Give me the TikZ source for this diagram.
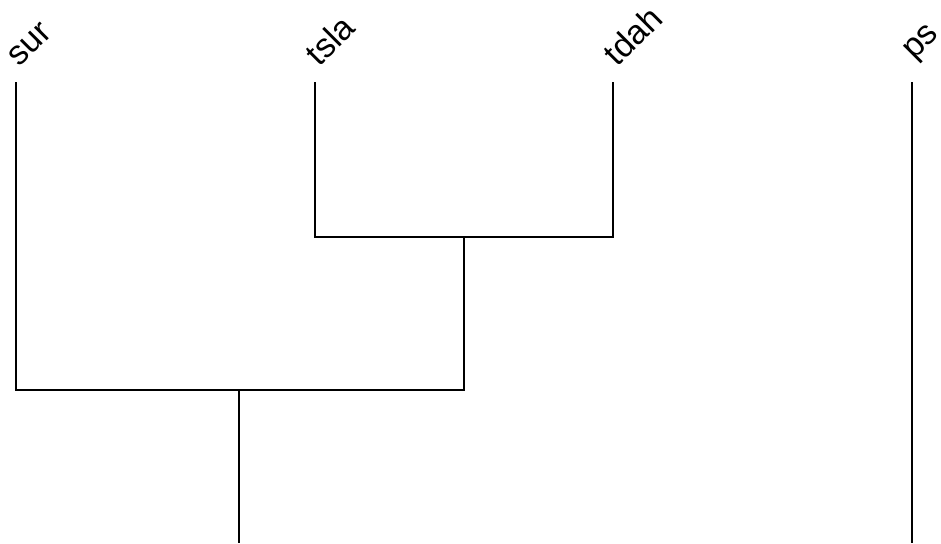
\documentclass[tikz,border=0pt]{standalone}
\usepackage{fontspec}
\setmainfont{Liberation Sans}
\begin{document}
\begin{tikzpicture}[x=1pt,y=-1pt,
  link/.style={line width=1.4pt,black},
  leaflabel/.style={rotate=45,anchor=south west,inner sep=0pt,font=\fontsize{34}{39}\selectfont}]
\useasboundingbox (0,0) rectangle (941,543);
% leaves
\coordinate (sur) at (16,82);
\coordinate (tsla) at (315,82);
\coordinate (tdah) at (613,82);
\coordinate (ps) at (912,82);
\coordinate (m1) at (464,237);
\coordinate (m2) at (239,390);
\coordinate (r2) at (239,543);
\coordinate (rps) at (912,543);
\node[leaflabel] (lsur) at (20,68) {sur};
\node[leaflabel] (ltsla) at (320,68) {tsla};
\node[leaflabel] (ltdah) at (618,68) {tdah};
\node[leaflabel] (lps) at (919,66) {ps};
\draw[link] (tsla) |- (m1) -| (tdah);
\draw[link] (sur) |- (m2) -| (m1);
\draw[link] (m2) -- (r2);
\draw[link] (ps) -- (rps);
\end{tikzpicture}
\end{document}
